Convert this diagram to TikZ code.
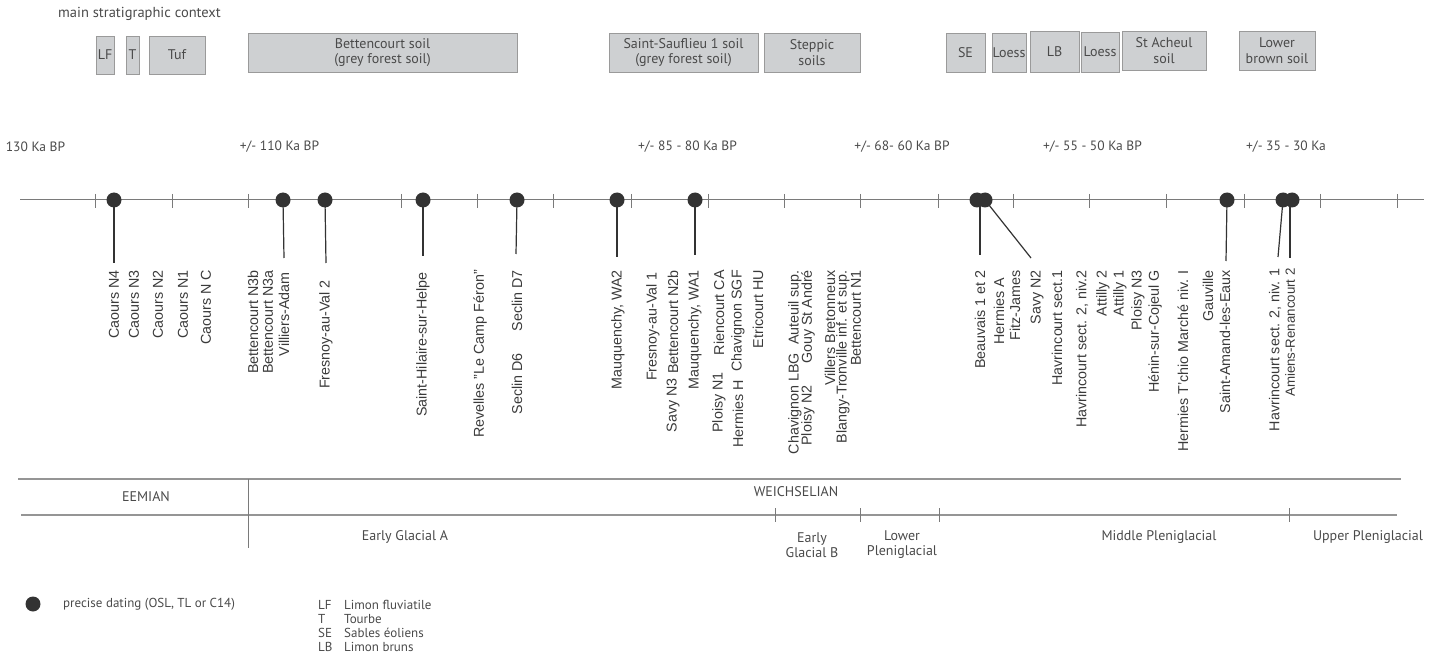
\documentclass[tikz,border=0pt]{standalone}
\usepackage{fontspec}
\setmainfont{Liberation Sans}
\newfontfamily\myr{PT Sans}
\definecolor{boxfill}{HTML}{CED0D2}
\definecolor{boxdraw}{HTML}{9A9A9A}
\definecolor{txtgray}{HTML}{4A4A4A}
\definecolor{axgray}{HTML}{7A7A7A}
\definecolor{dotcol}{HTML}{333333}
\definecolor{lblcol}{HTML}{3A3A3A}
\begin{document}
\begin{tikzpicture}[x=1pt,y=-1pt,
  soil/.style={draw=boxdraw, fill=boxfill, text=txtgray, font=\myr\fontsize{14}{15.5}\selectfont, align=center, inner sep=0pt, line width=0.8pt},
  mtxt/.style={text=txtgray, font=\myr\fontsize{13.5}{15}\selectfont, inner sep=0pt, align=center},
  ptxt/.style={text=txtgray, font=\myr\fontsize{14}{15}\selectfont, inner sep=0pt, align=center},
  ltxt/.style={text=txtgray, font=\myr\fontsize{13}{14}\selectfont, inner sep=0pt, anchor=west},
  lbl/.style={rotate=90, anchor=east, text=lblcol, font=\fontsize{14.3}{16}\selectfont, inner sep=0pt},
  dot/.style={circle, fill=dotcol, inner sep=0pt, minimum size=15pt},
  stem/.style={draw=dotcol, line width=1.2pt},
  axis/.style={draw=axgray, line width=1pt},
  tick/.style={draw=axgray, line width=1pt},
  period/.style={draw=axgray!80, line width=1.1pt}
]
\useasboundingbox (0,0) rectangle (1440,668);

% title
\node[mtxt, anchor=west, font=\myr\fontsize{14.5}{16}\selectfont] (title) at (58,14) {main stratigraphic context};

% soil boxes
\node[soil, minimum width=18, minimum height=38] (lf) at (105,55) {LF};
\node[soil, minimum width=13, minimum height=38] (t) at (132.5,55) {T};
\node[soil, minimum width=56, minimum height=38] (tuf) at (177,55) {Tuf};
\node[soil, minimum width=269, minimum height=39] (bett) at (382.5,52.5) {Bettencourt soil\\(grey forest soil)};
\node[soil, minimum width=149, minimum height=39] (ssf) at (683.5,52.5) {Saint-Saufl{}ieu 1 soil\\(grey forest soil)};
\node[soil, minimum width=96, minimum height=39] (step) at (812,52.5) {Steppic\\soils};
\node[soil, minimum width=39, minimum height=39] (se) at (965.5,52.5) {SE};
\node[soil, minimum width=34, minimum height=39] (loessa) at (1009,52.5) {Loess};
\node[soil, minimum width=49, minimum height=41] (lb) at (1054.5,51.5) {LB};
\node[soil, minimum width=38, minimum height=40] (loessb) at (1100,52) {Loess};
\node[soil, minimum width=84, minimum height=39] (stach) at (1164,50.5) {St Acheul\\soil};
\node[soil, minimum width=76, minimum height=39] (lbs) at (1277,50.5) {Lower\\brown soil};

% time labels
\node[mtxt] (t130) at (35.5,147) {130 Ka BP};
\node[mtxt] (t110) at (279.5,147) {+/- 110 Ka BP};
\node[mtxt] (t85) at (687.5,147) {+/- 85 - 80 Ka BP};
\node[mtxt] (t68) at (902,147) {+/- 68- 60 Ka BP};
\node[mtxt] (t55) at (1092.5,147) {+/- 55 - 50 Ka BP};
\node[mtxt] (t35) at (1286,147) {+/- 35 - 30 Ka};

% axis
\coordinate (axL) at (20,200);
\coordinate (axR) at (1424,200);
\draw[axis] (axL) -- (axR);
\foreach \x in {95,172,248,325,401,477,553,631,708,784,860,938,1013,1089,1166,1244,1320,1397}
  \draw[tick] (\x,194) -- (\x,208);

% dots
\node[dot] (d1) at (114,200) {};
\node[dot] (d2) at (283,200) {};
\node[dot] (d3) at (325,200) {};
\node[dot] (d4) at (423,200) {};
\node[dot] (d5) at (517,200) {};
\node[dot] (d6) at (617,200) {};
\node[dot] (d7) at (695,200) {};
\node[dot] (d8a) at (977,200) {};
\node[dot] (d8b) at (985,200) {};
\node[dot] (d9) at (1227,200) {};
\node[dot] (d10a) at (1283,200) {};
\node[dot] (d10b) at (1292,200) {};

% stem ends
\coordinate (e1) at (114,263);
\coordinate (e2) at (284,258);
\coordinate (e3) at (326,263);
\coordinate (e4) at (423,256);
\coordinate (e5) at (516,254);
\coordinate (e6) at (617,257);
\coordinate (e7) at (695,255);
\coordinate (e8a) at (980,255);
\coordinate (e8b) at (1031,258);
\coordinate (e9) at (1226,261);
\coordinate (e10a) at (1278,257);
\coordinate (e10b) at (1290,258);
\draw[stem] (d1.center) -- (e1);
\draw[stem] (d2.center) -- (e2);
\draw[stem] (d3.center) -- (e3);
\draw[stem] (d4.center) -- (e4);
\draw[stem] (d5.center) -- (e5);
\draw[stem] (d6.center) -- (e6);
\draw[stem] (d7.center) -- (e7);
\draw[stem] (980,200) -- (e8a);
\draw[stem] (d8b.center) -- (e8b);
\draw[stem] (d9.center) -- (e9);
\draw[stem] (d10a.center) -- (e10a);
\draw[stem] (1290,200) -- (e10b);

% site labels
\node[lbl] (l1) at (114,270) {Caours N4};
\node[lbl] (l2) at (134,270) {Caours N3};
\node[lbl] (l3) at (158,270) {Caours N2};
\node[lbl] (l4) at (183,270) {Caours N1};
\node[lbl] (l5) at (206,270) {Caours N C};
\node[lbl] (l6) at (253,270) {Bettencourt N3b};
\node[lbl] (l7) at (268,270) {Bettencourt N3a};
\node[lbl] (l8) at (284,272) {Villiers-Adam};
\node[lbl] (l9) at (326,280) {Fresnoy-au-Val 2};
\node[lbl] (l10) at (423,272) {Saint-Hilaire-sur-Helpe};
\node[lbl] (l11) at (480,270) {Revelles "Le Camp Féron"};
\node[lbl] (l12a) at (517,353) {Seclin D6};
\node[lbl] (l12b) at (517,270) {Seclin D7};
\node[lbl] (l13) at (618,270) {Mauquenchy, WA2};
\node[lbl] (l14) at (653,272) {Fresnoy-au-Val 1};
\node[lbl] (l15a) at (673,378) {Savy N3};
\node[lbl] (l15b) at (673,270) {Bettencourt N2b};
\node[lbl] (l16) at (695,270) {Mauquenchy, WA1};
\node[lbl] (l17a) at (719,372) {Ploisy N1};
\node[lbl] (l17b) at (719,270) {Riencourt CA};
\node[lbl] (l18a) at (738,380) {Hermies H};
\node[lbl] (l18b) at (738,270) {Chavignon SGF};
\node[lbl] (l19) at (758,270) {Etricourt HU};
\node[lbl] (l20a) at (795,353) {Chavignon LBG};
\node[lbl] (l20b) at (795,270) {Auteuil sup.};
\node[lbl] (l21a) at (808,385) {Ploisy N2};
\node[lbl] (l21b) at (808,270) {Gouy St André};
\node[lbl] (l22) at (830,270) {Villers Bretonneux};
\node[lbl] (l23) at (843,270) {Blangy-Tronville inf. et sup.};
\node[lbl] (l24) at (856,270) {Bettencourt N1};
\node[lbl] (l25) at (980,270) {Beauvais 1 et 2};
\node[lbl] (l26) at (999,278) {Hermies A};
\node[lbl] (l27) at (1015,270) {Fitz-James};
\node[lbl] (l28) at (1037,270) {Savy N2};
\node[lbl] (l29) at (1057,270) {Havrincourt sect.1};
\node[lbl] (l30) at (1082,270) {Havrincourt sect. 2, niv.2};
\node[lbl] (l31) at (1103,270) {Attilly 2};
\node[lbl] (l32) at (1120,270) {Attilly 1};
\node[lbl] (l33) at (1138,270) {Ploisy N3};
\node[lbl] (l34) at (1155,270) {Hénin-sur-Cojeul G};
\node[lbl] (l35) at (1183,270) {Hermies T'chio Marché niv. I};
\node[lbl] (l36) at (1208,270) {Gauville};
\node[lbl] (l37) at (1225,270) {Saint-Amand-les-Eaux};
\node[lbl] (l38) at (1275,268) {Havrincourt sect. 2, niv. 1};
\node[lbl, font=\fontsize{13.3}{15}\selectfont] (l39) at (1290,268) {Amiens-Renancourt 2};

% period bands
\coordinate (p1L) at (18,479);
\coordinate (p1R) at (1401,479);
\coordinate (p2L) at (21,515);
\coordinate (p2R) at (1397,515);
\draw[period] (p1L) -- (p1R);
\draw[period] (p2L) -- (p2R);
\draw[tick] (248,479) -- (248,548);
\foreach \x in {775,860,939,1289}
  \draw[tick] (\x,508) -- (\x,522);
\node[ptxt] (eem) at (146,497) {EEMIAN};
\node[ptxt] (wei) at (796,492) {WEICHSELIAN};
\node[ptxt] (ega) at (405,537) {Early Glacial A};
\node[ptxt] (egb) at (812,545) {Early\\Glacial B};
\node[ptxt] (lpg) at (902,545) {Lower\\Pleniglacial};
\node[ptxt] (mpg) at (1159,537) {Middle Pleniglacial};
\node[ptxt] (upg) at (1368,537) {Upper Pleniglacial};

% legend
\node[dot] (legdot) at (33,604) {};
\node[ltxt] (legtxt) at (63,604) {precise dating (OSL, TL or C14)};
\node[ltxt] (k1) at (318,605) {LF};
\node[ltxt] (v1) at (344,605) {Limon fluviatile};
\node[ltxt] (k2) at (318,619) {T};
\node[ltxt] (v2) at (344,619) {Tourbe};
\node[ltxt] (k3) at (318,633) {SE};
\node[ltxt] (v3) at (344,633) {Sables éoliens};
\node[ltxt] (k4) at (318,647) {LB};
\node[ltxt] (v4) at (344,647) {Limon bruns};
\end{tikzpicture}
\end{document}
